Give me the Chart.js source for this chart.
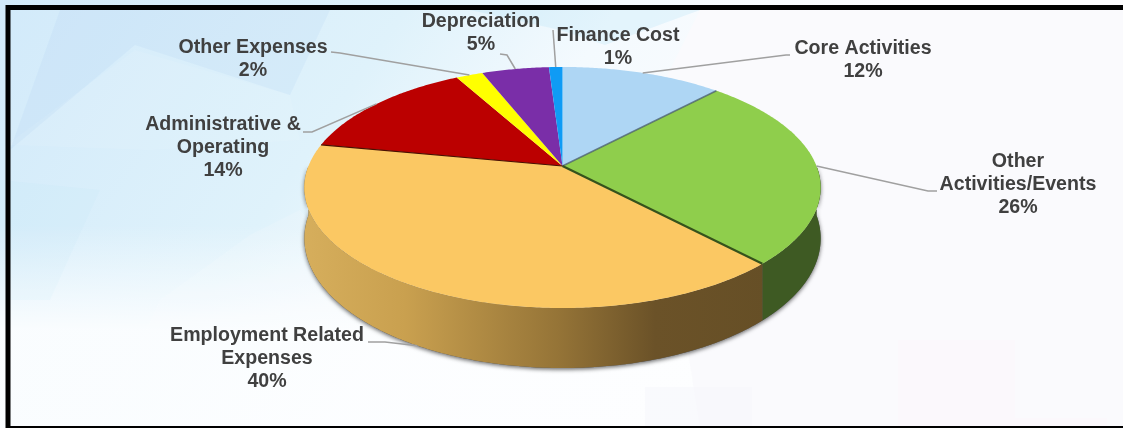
<!DOCTYPE html>
<html>
<head>
<meta charset="utf-8">
<script src="https://cdn.jsdelivr.net/npm/chart.js@4/dist/chart.umd.min.js"></script>
<style>
  html, body { margin: 0; padding: 0; background: #fff; overflow: hidden; }
  #wrap { position: relative; width: 1123px; height: 428px; }
  canvas { display: block; }
</style>
</head>
<body>
<div id="wrap"><canvas id="c" width="1123" height="428"></canvas></div>
<script>
// Expense breakdown, in percent
const categories = [
  ["Core Activities"],
  ["Other", "Activities/Events"],
  ["Employment Related", "Expenses"],
  ["Administrative &", "Operating"],
  ["Other Expenses"],
  ["Depreciation"],
  ["Finance Cost"]
];
const shares = [12, 26, 40, 14, 2, 5, 1];
const sliceColors = ["#aed6f4", "#8fce4c", "#fbc863", "#bb0000", "#ffff00", "#7a2ea8", "#0f9bf5"];
const wallColors = ["#5f7c94", "#3e5a23", "#6b5228", "#600000", "#888800", "#401860", "#085080"];

// Tilted-disc projection: the hub sits above the centre of the visible ellipse
const disc = { cx: 562.5, cy: 166, a: 254, b: 116.7, k: 0.1784, depth: 49.3 };

function project(angle, r) {
  // Chart.js angles start at -PI/2 for the top of the pie
  const u = Math.cos(angle) * r, v = Math.sin(angle) * r;
  const w = 1 - disc.k * v;
  return { x: disc.cx + disc.a * u / w, y: disc.cy + disc.b * v / w, w };
}

function rimPath(ctx, from, to) {
  const steps = Math.max(2, Math.ceil(Math.abs(to - from) / 0.01));
  for (let i = 0; i <= steps; i++) {
    const p = project(from + (to - from) * i / steps, 1);
    ctx.lineTo(p.x, p.y);
  }
}

function wallPath(ctx, from, to) {
  const steps = Math.max(2, Math.ceil(Math.abs(to - from) / 0.01));
  let p = project(from, 1);
  ctx.moveTo(p.x, p.y);
  rimPath(ctx, from, to);
  for (let i = steps; i >= 0; i--) {
    p = project(from + (to - from) * i / steps, 1);
    ctx.lineTo(p.x, p.y + disc.depth / p.w);
  }
  ctx.closePath();
}

// Leader-line routes and text anchors for every label
const labelPlaces = [
  { x: 863, y: 49, route: [[790, 55], [786, 55]] },
  { x: 1018, y: 162, route: [[937, 191], [928, 191]] },
  { x: 267, y: 336, route: [[368, 342], [385, 342]], onWall: true },
  { x: 223, y: 125, route: [[303, 132], [312, 132]] },
  { x: 253, y: 48, route: [[331, 52], [340, 53]] },
  { x: 481, y: 22, route: [[500, 54], [507, 55]] },
  { x: 618, y: 36, route: [[553, 30]] }
];

const backdrop = {
  id: "backdrop",
  beforeDraw(chart) {
    const { ctx, width, height } = chart;
    ctx.save();
    const base = ctx.createLinearGradient(0, 0, 620, 430);
    base.addColorStop(0, "#d2eafa");
    base.addColorStop(0.45, "#dff2fb");
    base.addColorStop(0.68, "#f4fafe");
    base.addColorStop(1, "#fcfcfe");
    ctx.fillStyle = base;
    ctx.fillRect(0, 0, width, height);
    const fade = ctx.createLinearGradient(0, 225, 0, 330);
    fade.addColorStop(0, "rgba(253,254,255,0)");
    fade.addColorStop(1, "rgba(253,254,255,.9)");
    ctx.fillStyle = fade;
    ctx.fillRect(0, 225, 720, height - 225);
    const facets = [
      ["rgba(160,200,240,.14)", [[60, 10], [330, 10], [290, 95], [135, 45], [10, 150]]],
      ["rgba(255,255,255,.08)", [[0, 150], [135, 50], [290, 95], [300, 140], [150, 150], [10, 145]]],
      ["rgba(150,215,240,.06)", [[0, 180], [100, 190], [50, 300], [0, 300]]],
      ["rgba(255,255,255,.14)", [[160, 300], [250, 235], [300, 210], [420, 350], [380, 428], [100, 428]]],
      ["rgba(150,215,245,.18)", [[470, 10], [700, 10], [605, 45], [560, 30]]],
      ["rgba(250,250,253,.95)", [[700, 10], [1123, 10], [1123, 428], [700, 428], [650, 110]]],
      ["rgba(246,246,252,.6)", [[645, 387], [752, 387], [752, 426], [645, 426]]],
      ["rgba(251,246,251,.7)", [[898, 340], [1015, 340], [1015, 426], [898, 426]]],
      ["rgba(251,246,251,.7)", [[1015, 418], [1107, 418], [1107, 426], [1015, 426]]]
    ];
    facets.forEach(([fill, pts]) => {
      ctx.fillStyle = fill;
      ctx.beginPath();
      pts.forEach(([x, y], i) => i ? ctx.lineTo(x, y) : ctx.moveTo(x, y));
      ctx.closePath();
      ctx.fill();
    });
    // Black picture frame
    ctx.strokeStyle = "#000";
    ctx.lineWidth = 5;
    ctx.strokeRect(8, 7.5, width + 20, height - 7);
    ctx.restore();
  }
};

// Replaces the flat arcs with a tilted disc, using the angles computed by the pie controller
const tiltedPie = {
  id: "tiltedPie",
  beforeDatasetDraw(chart, args) {
    const { ctx } = chart;
    const arcs = args.meta.data;

    // Shadow under the whole drum
    ctx.save();
    ctx.shadowColor = "rgba(0,0,0,.6)";
    ctx.shadowBlur = 4;
    ctx.shadowOffsetX = 0;
    ctx.shadowOffsetY = 1.5;
    ctx.fillStyle = "#555";
    ctx.beginPath();
    wallPath(ctx, 0, Math.PI);
    ctx.fill();
    ctx.restore();

    // Side walls, only where the rim faces the viewer
    arcs.forEach((arc, i) => {
      const a = arc.startAngle, b = arc.endAngle;
      const spans = [[Math.max(a, 0), Math.min(b, Math.PI)], [Math.max(a, 2 * Math.PI), Math.min(b, 3 * Math.PI)]];
      spans.forEach(([s, e]) => {
        if (e <= s) return;
        ctx.beginPath();
        wallPath(ctx, s, e);
        if (i === 2) {
          const g = ctx.createLinearGradient(304, 0, 766, 0);
          g.addColorStop(0, "#d6ae5c");
          g.addColorStop(0.22, "#c9a04f");
          g.addColorStop(0.55, "#957437");
          g.addColorStop(0.76, "#6b5228");
          g.addColorStop(1, "#664f26");
          ctx.fillStyle = g;
        } else {
          ctx.fillStyle = wallColors[i];
        }
        ctx.fill();
      });
    });

    // Top face
    arcs.forEach((arc, i) => {
      ctx.beginPath();
      ctx.moveTo(disc.cx, disc.cy);
      rimPath(ctx, arc.startAngle, arc.endAngle);
      ctx.closePath();
      ctx.fillStyle = sliceColors[i];
      ctx.fill();
    });

    // Dark seams along the radial cuts
    const seams = [["rgba(70,90,110,.75)", 1, 1.5], ["#35521c", 2, 2.2], ["#4a1000", 3, 1.2]];
    seams.forEach(([color, i, width]) => {
      const p = project(arcs[i].startAngle, 1);
      ctx.beginPath();
      ctx.moveTo(disc.cx, disc.cy);
      ctx.lineTo(p.x, p.y);
      ctx.strokeStyle = color;
      ctx.lineWidth = width;
      ctx.stroke();
    });

    // Leader lines and labels
    ctx.save();
    ctx.font = "bold 19.6px 'Liberation Sans', Arial, sans-serif";
    ctx.textAlign = "center";
    ctx.textBaseline = "middle";
    arcs.forEach((arc, i) => {
      const place = labelPlaces[i];
      const mid = project((arc.startAngle + arc.endAngle) / 2, 1);
      const tipY = place.onWall ? mid.y + disc.depth / mid.w : mid.y;
      ctx.beginPath();
      place.route.forEach(([x, y], n) => n ? ctx.lineTo(x, y) : ctx.moveTo(x, y));
      ctx.lineTo(mid.x, tipY);
      ctx.strokeStyle = "#a0a0a0";
      ctx.lineWidth = 1.5;
      ctx.stroke();
      const lines = [...categories[i], shares[i] + "%"];
      ctx.fillStyle = "#404040";
      lines.forEach((line, n) => ctx.fillText(line, place.x, place.y + n * 22.8));
    });
    ctx.restore();
    return false;
  }
};

new Chart(document.getElementById("c"), {
  type: "pie",
  data: {
    labels: categories.map(c => c.join(" ")),
    datasets: [{ data: shares, backgroundColor: sliceColors, borderWidth: 0 }]
  },
  options: {
    responsive: false,
    animation: false,
    plugins: { legend: { display: false }, tooltip: { enabled: false } },
    layout: { padding: 0 }
  },
  plugins: [backdrop, tiltedPie]
});
</script>
</body>
</html>
